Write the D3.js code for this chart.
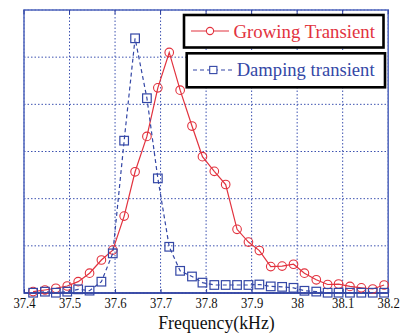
<!DOCTYPE html>
<html>
<head>
<meta charset="utf-8">
<script src="https://cdn.jsdelivr.net/npm/d3@7/dist/d3.min.js"></script>
<style>
  html, body { margin: 0; padding: 0; background: #fff; }
  svg { display: block; }
</style>
</head>
<body>
<svg id="chart" width="402" height="336"></svg>
<script>
// ---- data ----
const frequency = [37.420, 37.446, 37.470, 37.495, 37.519, 37.544, 37.570, 37.595,
  37.620, 37.644, 37.670, 37.694, 37.719, 37.743, 37.769, 37.792,
  37.818, 37.843, 37.868, 37.893, 37.917, 37.942, 37.967, 37.992,
  38.016, 38.042, 38.067, 38.091, 38.116, 38.141, 38.166, 38.191];
const growing = [0.03, 0.064, 0.10, 0.148, 0.24, 0.42, 0.70, 0.91,
  1.63, 2.57, 3.32, 4.35, 5.10, 4.30, 3.54, 2.89,
  2.58, 2.30, 1.35, 1.08, 0.90, 0.56, 0.57, 0.61,
  0.42, 0.28, 0.18, 0.19, 0.14, 0.11, 0.085, 0.17];
const damping = [0.006, 0.028, 0.006, 0.028, 0.078, 0.05, 0.24, 0.84,
  3.23, 5.40, 4.13, 2.43, 0.98, 0.47, 0.35, 0.22,
  0.17, 0.17, 0.17, 0.17, 0.18, 0.14, 0.13, 0.11,
  0.047, 0.03, 0.006, 0.006, 0.006, 0.006, 0.006, 0.006];
const xTicks = [37.4, 37.5, 37.6, 37.7, 37.8, 37.9, 38.0, 38.1, 38.2];
const xTickLabels = ["37.4", "37.5", "37.6", "37.7", "37.8", "37.9", "38", "38.1", "38.2"];
const yGrid = [0, 1, 2, 3, 4, 5, 6];
const seriesNames = ["Growing Transient", "Damping transient"];
const xLabel = "Frequency(kHz)";

// ---- layout ----
const L = 24, R = 388.2, T = 10, B = 293;
const RED = "#e2323e", BLUE = "#3447a6", GRID = "#3d52b0";
const serif = "'Liberation Serif', 'Times New Roman', serif";
const svg = d3.select("#chart");
const x = d3.scaleLinear().domain([37.4, 38.2]).range([L, R]);
const y = d3.scaleLinear().domain([0, 6]).range([B, T]);

// grid
const g = svg.append("g");
g.selectAll("line.vg").data(xTicks).enter().append("line")
  .attr("x1", d => x(d)).attr("x2", d => x(d)).attr("y1", T).attr("y2", B)
  .attr("stroke", GRID).attr("stroke-width", 1).attr("stroke-dasharray", "1.5,2");
g.selectAll("line.hg").data(yGrid).enter().append("line")
  .attr("x1", L).attr("x2", R).attr("y1", d => y(d)).attr("y2", d => y(d))
  .attr("stroke", GRID).attr("stroke-width", 1).attr("stroke-dasharray", "1.5,2");

// axes box
svg.append("rect").attr("x", L).attr("y", T).attr("width", R - L).attr("height", B - T)
  .attr("fill", "none").attr("stroke", "#5a6fc0").attr("stroke-width", 1.6);
svg.append("line").attr("x1", L).attr("x2", R).attr("y1", B).attr("y2", B)
  .attr("stroke", "#2b3d9e").attr("stroke-width", 1.4);

// bottom axis via d3 axis (inward ticks)
const xAxis = d3.axisBottom(x).tickValues(xTicks)
  .tickFormat((d, i) => xTickLabels[i]).tickSizeInner(-4).tickSizeOuter(0).tickPadding(8);
const ax = svg.append("g").attr("transform", `translate(0,${B})`).call(xAxis);
ax.select(".domain").remove();
ax.selectAll(".tick line").attr("stroke", "#2b3d9e");
ax.selectAll(".tick text")
  .attr("font-family", serif)
  .attr("font-size", 15.5).attr("fill", "#111")
  .attr("dy", null).attr("y", 15.5)
  .attr("transform", "scale(0.82,1)");
// top inward ticks
svg.selectAll("line.tt").data(xTicks).enter().append("line")
  .attr("x1", d => x(d)).attr("x2", d => x(d)).attr("y1", T).attr("y2", T + 4)
  .attr("stroke", "#2b3d9e");

// series
const line = d3.line().x(d => x(d[0])).y(d => y(d[1]));
const gData = frequency.map((f, i) => [f, growing[i]]);
const dData = frequency.map((f, i) => [f, damping[i]]);

svg.append("path").datum(gData).attr("d", line)
  .attr("fill", "none").attr("stroke", RED).attr("stroke-width", 1.2);
svg.selectAll("circle.gm").data(gData).enter().append("circle")
  .attr("cx", d => x(d[0])).attr("cy", d => y(d[1])).attr("r", 4.3)
  .attr("fill", "none").attr("stroke", RED).attr("stroke-width", 1.1);

svg.append("path").datum(dData).attr("d", line)
  .attr("fill", "none").attr("stroke", BLUE).attr("stroke-width", 1.2)
  .attr("stroke-dasharray", "4,3");
const S = 8.6;
svg.selectAll("rect.dm").data(dData).enter().append("rect")
  .attr("x", d => x(d[0]) - S / 2).attr("y", d => y(d[1]) - S / 2)
  .attr("width", S).attr("height", S)
  .attr("fill", "none").attr("stroke", BLUE).attr("stroke-width", 1.2);

// legend
// box 1
svg.append("rect").attr("x", 184).attr("y", 15).attr("width", 199.5).attr("height", 32.5)
  .attr("fill", "#fff").attr("stroke", "#000").attr("stroke-width", 2.6);
svg.append("line").attr("x1", 191).attr("x2", 229).attr("y1", 31).attr("y2", 31)
  .attr("stroke", RED).attr("stroke-width", 1.2);
svg.append("circle").attr("cx", 210).attr("cy", 31).attr("r", 3.6)
  .attr("fill", "#fff").attr("stroke", RED).attr("stroke-width", 1.1);
svg.append("text").attr("x", 233.5).attr("y", 37.5).text(seriesNames[0])
  .attr("font-family", serif).attr("font-size", 18.8).attr("fill", RED);
// box 2
svg.append("rect").attr("x", 186.7).attr("y", 53.3).attr("width", 198.3).attr("height", 34)
  .attr("fill", "#fff").attr("stroke", "#000").attr("stroke-width", 2.6);
svg.append("line").attr("x1", 193).attr("x2", 233).attr("y1", 70).attr("y2", 70)
  .attr("stroke", BLUE).attr("stroke-width", 1.2).attr("stroke-dasharray", "4,3");
svg.append("rect").attr("x", 213.3 - 3.6).attr("y", 70 - 3.6).attr("width", 7.2).attr("height", 7.2)
  .attr("fill", "#fff").attr("stroke", BLUE).attr("stroke-width", 1.1);
svg.append("text").attr("x", 236.7).attr("y", 76).text(seriesNames[1])
  .attr("font-family", serif).attr("font-size", 18.6).attr("fill", BLUE);

// x label
svg.append("text").attr("x", 216.5).attr("y", 328.5).attr("text-anchor", "middle")
  .text(xLabel).attr("font-family", serif).attr("font-size", 17.8).attr("fill", "#111");
</script>
</body>
</html>
